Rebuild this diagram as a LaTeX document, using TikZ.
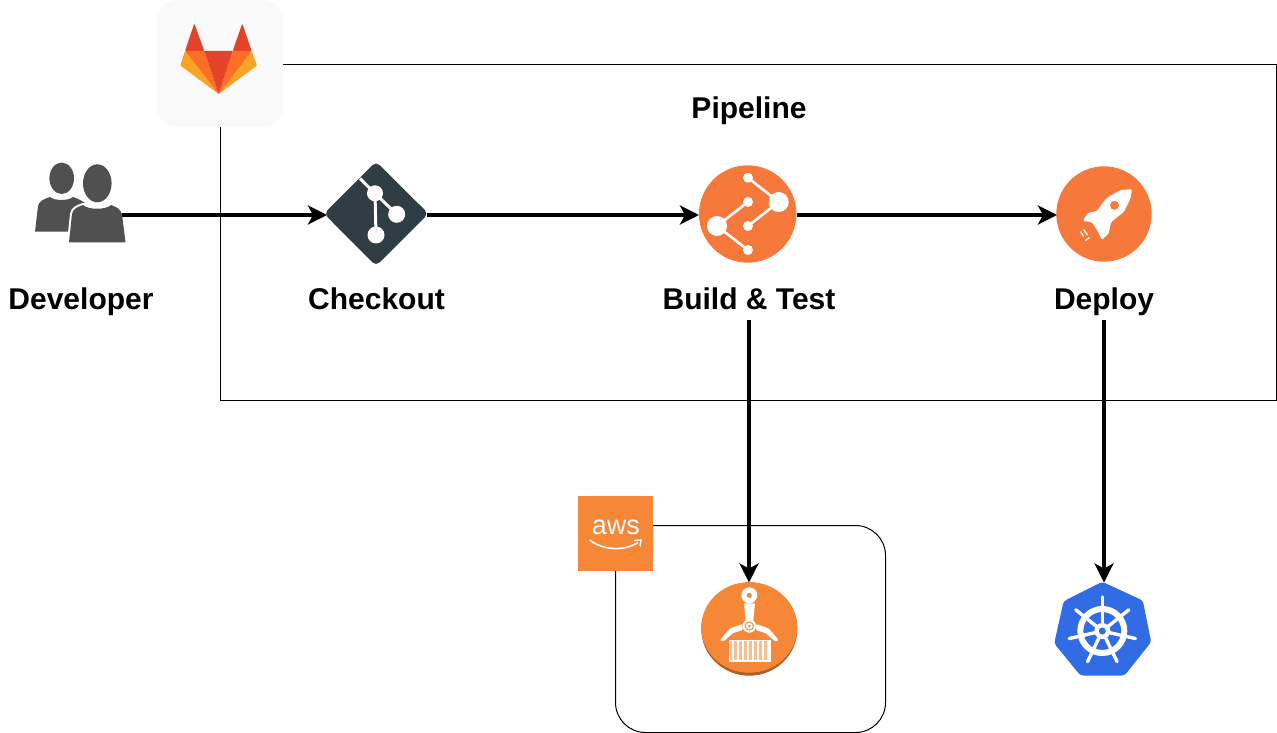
\documentclass[tikz,border=0pt]{standalone}
\usepackage{fontspec}
\setmainfont{Liberation Sans}
\usetikzlibrary{positioning,arrows.meta}

\definecolor{foxred}{HTML}{E24329}
\definecolor{foxorange}{HTML}{FC6D26}
\definecolor{foxyellow}{HTML}{FCA326}
\definecolor{gitdark}{HTML}{2F3D44}
\definecolor{peoplegrey}{HTML}{505050}
\definecolor{stageorange}{HTML}{F6793B}
\definecolor{awsorange}{HTML}{F58736}
\definecolor{awsdark}{HTML}{AE6028}
\definecolor{kubeblue}{HTML}{326CE5}

\tikzset{
  spot/.style={inner sep=0pt, outer sep=0pt, minimum height=1pt},
  stage/.style={font=\fontsize{30}{36}\selectfont\bfseries, inner sep=0pt, outer sep=0pt, text height=22pt, text depth=11pt},
  flow/.style={line width=3.6pt, -{Stealth[length=19pt,width=19pt,inset=5pt]}},
  frame/.style={draw, line width=1pt, inner sep=0pt, outer sep=0pt},
  glyph/.style={white, line width=2.6pt},
}

\begin{document}
\begin{tikzpicture}[x=1pt,y=-1pt]
\useasboundingbox (0,0) rectangle (1277,733);

\node[frame, minimum width=1056pt, minimum height=336pt] (pipeline) at (748.5,232.5) {};
\node[frame, rounded corners=30pt, minimum width=270pt, minimum height=207pt] (cloud) at (750.5,629) {};

\node[spot, minimum width=87pt] (developer) at (78.5,215) {};
\node[spot, minimum width=100pt, right=205pt of developer] (checkout) {};
\node[spot, minimum width=98pt, right=272pt of checkout] (build) {};
\node[spot, minimum width=95pt, right=260pt of build] (deploy) {};

\node[stage, below=71.5pt of developer, xshift=2.5pt] (developerlabel) {Developer};
\node[stage, below=71.5pt of checkout, xshift=-0.5pt] (checkoutlabel) {Checkout};
\node[stage, below=71.5pt of build, xshift=1pt] (buildlabel) {Build \& Test};
\node[stage, below=71.5pt of deploy, xshift=-0.5pt] (deploylabel) {Deploy};
\node[stage, above=84.5pt of build, xshift=1pt] (pipelinelabel) {Pipeline};

\node[spot, circle, minimum size=94pt, below=262.5pt of buildlabel] (registry) {};
\node[spot, circle, minimum size=94pt, below=262.5pt of deploylabel] (kube) {};

% gitlab
\node[spot, fill=black!2.5, rounded corners=20pt, minimum width=126pt, minimum height=127pt] (gitlab) at (220,63.5) {};
\fill[foxred, rounded corners=1pt] (185,51) -- (194.3,23.5) -- (204.3,51) -- cycle;
\fill[foxred, rounded corners=1pt] (232.7,51) -- (242.3,23.5) -- (251.7,51) -- cycle;
\fill[foxyellow, rounded corners=1pt] (185,51) -- (180.3,65.5) -- (218.7,94) -- cycle;
\fill[foxyellow, rounded corners=1pt] (251.7,51) -- (257,65.5) -- (218.7,94) -- cycle;
\fill[foxorange] (185,51) -- (204.3,51) -- (218.7,94) -- cycle;
\fill[foxorange] (251.7,51) -- (232.7,51) -- (218.7,94) -- cycle;
\fill[foxred] (204.3,51) -- (232.7,51) -- (218.7,94) -- cycle;

% people
\fill[peoplegrey] (61.7,178.3) ellipse (12.3 and 15.7);
\fill[peoplegrey] (35,231.7) -- (38,206) .. controls (39,201) and (44,199) .. (50,197) .. controls (55,201) and (68,201) .. (73,197) .. controls (78,199) and (84,201) .. (88,206) -- (88,231.7) -- cycle;
\draw[white, fill=white, line width=4pt] (69,242.3) -- (72,214) .. controls (73,209) and (77,207) .. (83,205) -- (111,205) -- (125,242.3) -- cycle;
\fill[peoplegrey] (69,242.3) -- (72,214) .. controls (73,209) and (77,207) .. (83,205) .. controls (88,210) and (106,210) .. (111,205) .. controls (117,207) and (120,209) .. (122,214) -- (125.5,242.3) -- cycle;
\fill[peoplegrey] (97.3,183.3) ellipse (14.3 and 19);

% git
\fill[gitdark, rounded corners=5pt] (324,213.7) -- (376,161.5) -- (428.5,213.7) -- (376,266) -- cycle;
\draw[glyph, line width=3pt] (360,178.5) -- (375,193.3) -- (396.7,214.3) (375,193.3) -- (376,235);
\fill[white] (375,193.3) circle (8);
\fill[white] (396.7,214.3) circle (8.5);
\fill[white] (376,235) circle (8.5);

% build
\fill[stageorange] (747.7,214) circle (48.7);
\draw[glyph] (748,177.7) -- (778.7,202) -- (748,226);
\draw[glyph] (748,202) -- (717,226) -- (748,250);
\foreach \cx/\cy in {748/177.7, 748/202, 748/226, 748/250}
  \fill[white] (\cx,\cy) circle (5);
\fill[white] (778.7,202) circle (10);
\fill[white] (717,226) circle (10);

% rocket
\fill[stageorange] (1104,214) circle (47.7);
\fill[white, rounded corners=1.5pt] (1132,189) -- (1120,190.2) -- (1106.5,198) -- (1096.7,211.2) -- (1088,212.8) -- (1082.8,221) -- (1091.7,222) -- (1098.3,232) -- (1101.7,240) -- (1108.7,233.5) -- (1111,222) -- (1123.8,212) -- (1130.5,198.5) -- cycle;
\fill[stageorange] (1114.5,205.3) circle (4.5);
\draw[white, line width=1.3pt] (1080.5,231.5) -- (1083.5,236.5) (1083.5,229.5) -- (1087.5,235) (1085.5,240.5) -- (1089.5,237.5);

% aws
\node[spot, fill=awsorange, minimum size=75pt] (awstile) at (615.5,533.5) {};
\node[text=white, font=\fontsize{27}{27}\selectfont, anchor=base, inner sep=0pt] (awstext) at (615.8,534.5) {aws};
\draw[white, line width=1.6pt] (589.7,540) .. controls (604,551) and (625,551) .. (638,542.5);
\draw[white, line width=1.4pt] (634,540.5) -- (641,540) -- (640,546.5);

% registry
\fill[awsdark] (749.3,629) ellipse (48 and 46.7);
\fill[awsorange] (749.3,627.5) ellipse (48 and 45.2);
\fill[white] (749.3,595.3) circle (8);
\fill[awsorange] (749.3,595.3) circle (2.5);
\fill[white] (744,603.3) -- (755,603.3) -- (753.3,620.7) -- (745.7,620.7) -- cycle;
\fill[white, rounded corners=1pt] (742.7,624) -- (730,628.3) -- (720,640) -- (723.3,641.7) -- (732.7,633.3) -- (742.7,630) -- cycle;
\fill[white, rounded corners=1pt] (755.9,624) -- (768.6,628.3) -- (778.6,640) -- (775.3,641.7) -- (765.9,633.3) -- (755.9,630) -- cycle;
\fill[white] (749.3,626) circle (6.7);
\fill[awsorange] (749.3,626) circle (4.6);
\fill[white] (749.3,626) circle (3.4);
\fill[awsorange] (749.3,626) circle (1.5);
\draw[white, line width=1.2pt, fill=awsorange!55] (729.2,640.5) rectangle (770,661);
\foreach \bx in {732.5,737.5,...,768}
  \fill[white] (\bx-1,640.5) rectangle (\bx+1,661);

% kubernetes
\fill[kubeblue, rounded corners=3pt] (1102.3,581.8) -- (1142.8,600.5) -- (1151.2,642) -- (1124.6,675.5) -- (1080.4,675.5) -- (1054.2,643.5) -- (1063.6,601.2) -- cycle;
\begin{scope}[shift={(1102.3,631)}]
\draw[white, line width=6pt] (0,0) circle (22);
\foreach \a in {0,...,6}
  \draw[white, line width=3.4pt, line cap=round] (0,0) -- (90+\a*51.43:34pt);
\fill[white] (0,0) circle (8);
\fill[kubeblue] (0,0) circle (3.5);
\end{scope}

\draw[flow] (developer) -- (checkout);
\draw[flow] (checkout) -- (build);
\draw[flow] (build) -- (deploy);
\draw[flow] (buildlabel) -- (registry);
\draw[flow] (deploylabel) -- (kube);
\end{tikzpicture}
\end{document}
